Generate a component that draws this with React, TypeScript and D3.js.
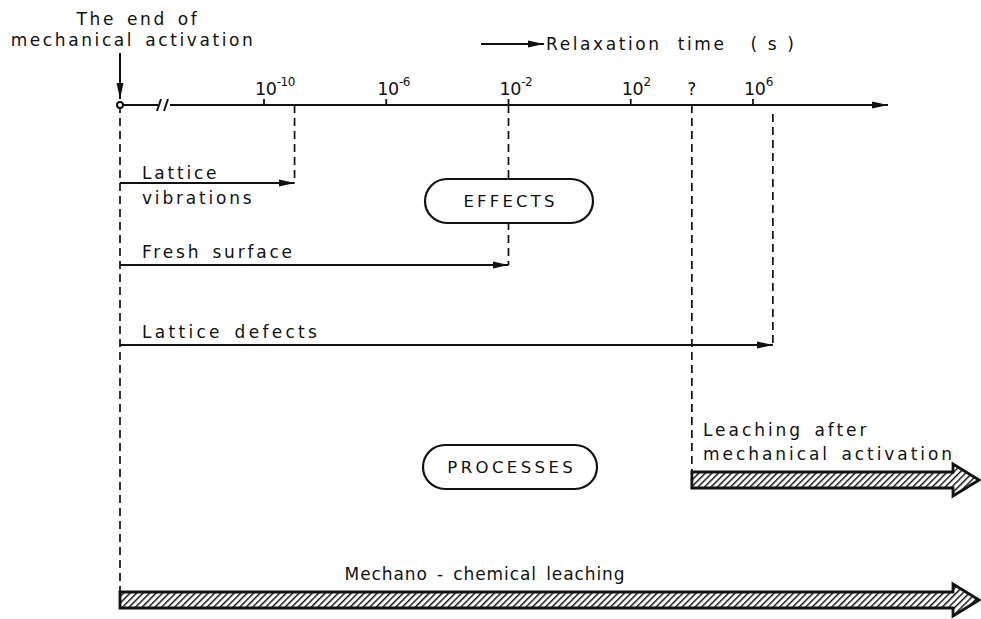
import React from 'react';
import * as d3 from 'd3';

// relaxation-time axis, exponents of 10 (s)
const tickExps = [-10, -6, -2, 2, 6];
const unknownExp = 4; // the "?" mark on the axis

// effects: label lines and the exponent where each relaxes
const effectLabels = [['Lattice', 'vibrations'], ['Fresh surface'], ['Lattice defects']];
const effectEnds = [-9, -2, 6.65];
const effectRows = [183, 265, 345];

// processes: start (null = end of activation) and label
const processLabels = [['Leaching after', 'mechanical activation'], ['Mechano - chemical leaching']];
const processStarts = [unknownExp, null];
const processRows = [480, 600];

const W = 981;
const H = 619;
const axisY = 105;
const originX = 120;
const FONT = '"DejaVu Sans", sans-serif';
const INK = '#111';

const x = d3.scaleLinear().domain([-10, 6]).range([264, 753]);

function hatchArrow(x0: number, cy: number, tip: number) {
  const p = d3.path();
  const hs = tip - 26;
  p.moveTo(x0, cy - 8);
  p.lineTo(hs, cy - 8);
  p.lineTo(hs, cy - 16);
  p.lineTo(tip, cy);
  p.lineTo(hs, cy + 16);
  p.lineTo(hs, cy + 8);
  p.lineTo(x0, cy + 8);
  p.closePath();
  return p.toString();
}

function Label({ x: lx, y, lines, anchor = 'start', size = 17, gap = 25, ls = 2.8 }: any) {
  return (
    <text x={lx} y={y} fontFamily={FONT} fontSize={size} letterSpacing={ls} wordSpacing={3}
      textAnchor={anchor} fill={INK} style={{ whiteSpace: 'pre' }}>
      {lines.map((l: string, i: number) => (
        <tspan key={i} x={lx} dy={i === 0 ? 0 : gap}>{l}</tspan>
      ))}
    </text>
  );
}

function Pill({ cx, cy, w, h, label, ls }: any) {
  return (
    <g>
      <rect x={cx - w / 2} y={cy - h / 2} width={w} height={h} rx={h / 2} ry={h / 2}
        fill="white" stroke={INK} strokeWidth={2.2} />
      <text x={cx + ls / 2} y={cy + 6} textAnchor="middle" fontFamily={FONT} fontSize={16.5}
        letterSpacing={ls} fill={INK}>
        {label}
      </text>
    </g>
  );
}

export default function App() {
  const dash = '8 5';
  return (
    <svg width={W} height={H} style={{ position: 'absolute', left: 0, top: 0, background: 'white' }}>
      <defs>
        <pattern id="hatch" width={4.6} height={4.6} patternUnits="userSpaceOnUse" patternTransform="rotate(45)">
          <rect width={4.6} height={4.6} fill="white" />
          <line x1={0} y1={0} x2={0} y2={4.6} stroke={INK} strokeWidth={2.9} />
        </pattern>
        <marker id="head" viewBox="0 0 16 8" refX={16} refY={4} markerWidth={16} markerHeight={8}
          markerUnits="userSpaceOnUse" orient="auto">
          <path d="M0,0.5 L16,4 L0,7.5 Z" fill={INK} />
        </marker>
      </defs>

      {/* title at the origin */}
      <Label x={138} y={25} lines={['The end of']} anchor="middle" ls={2.6} />
      <Label x={133} y={46} lines={['mechanical activation']} anchor="middle" ls={2.6} />
      <line x1={originX} y1={53} x2={originX} y2={99} stroke={INK} strokeWidth={2} markerEnd="url(#head)" />

      {/* axis title */}
      <line x1={481} y1={44} x2={544} y2={44} stroke={INK} strokeWidth={1.8} markerEnd="url(#head)" />
      <text x={546} y={50} fontFamily={FONT} fontSize={17} letterSpacing={2.6} fill={INK} style={{ whiteSpace: 'pre' }}>
        Relaxation  time   ( s )
      </text>

      {/* dashed relaxation markers */}
      <line x1={originX} y1={axisY} x2={originX} y2={592} stroke={INK} strokeWidth={1.7} strokeDasharray={dash} />
      {effectEnds.map((e, i) => (
        <line key={i} x1={x(e)} y1={axisY + (i === 2 ? 9 : 0)} x2={x(e)} y2={effectRows[i]}
          stroke={INK} strokeWidth={1.7} strokeDasharray={dash} />
      ))}
      <line x1={x(unknownExp)} y1={axisY} x2={x(unknownExp)} y2={472} stroke={INK} strokeWidth={1.7}
        strokeDasharray={dash} />

      {/* axis */}
      <line x1={originX} y1={axisY} x2={888} y2={axisY} stroke={INK} strokeWidth={1.8} markerEnd="url(#head)" />
      <circle cx={originX} cy={axisY} r={3} fill="white" stroke={INK} strokeWidth={2} />
      <rect x={158} y={axisY - 3} width={12} height={6} fill="white" />
      <line x1={157} y1={111} x2={161} y2={99} stroke={INK} strokeWidth={2} />
      <line x1={164} y1={111} x2={168} y2={99} stroke={INK} strokeWidth={2} />
      {tickExps.map((e) => (
        <g key={e}>
          <line x1={x(e)} y1={axisY - 6} x2={x(e)} y2={axisY} stroke={INK} strokeWidth={1.8} />
          <text x={x(e) - 9} y={95} fontFamily={FONT} fontSize={17.5} fill={INK} letterSpacing={-0.5}>
            10<tspan dx={0.5} dy={-9} fontSize={12}>{e}</tspan>
          </text>
        </g>
      ))}
      <text x={x(unknownExp)} y={95} textAnchor="middle" fontFamily={FONT} fontSize={17} fill={INK}>?</text>

      {/* effects */}
      {effectEnds.map((e, i) => (
        <g key={i}>
          <line x1={originX} y1={effectRows[i]} x2={x(e)} y2={effectRows[i]} stroke={INK} strokeWidth={2.2}
            markerEnd="url(#head)" />
          {effectLabels[i].length > 1 ? (
            <Label x={142} y={effectRows[i] - 4} lines={effectLabels[i]} gap={25} />
          ) : (
            <Label x={142} y={effectRows[i] - 7} lines={effectLabels[i]} ls={i === 2 ? 3.3 : 2.8} />
          )}
        </g>
      ))}
      <Pill cx={509} cy={201} w={168} h={44} label="EFFECTS" ls={3.2} />

      {/* processes */}
      <Pill cx={510} cy={467} w={174} h={44} label="PROCESSES" ls={3.4} />
      {processStarts.map((s, i) => {
        const x0 = s === null ? originX : x(s);
        return (
          <g key={i}>
            <path d={hatchArrow(x0, processRows[i], 979)} fill="url(#hatch)" stroke={INK} strokeWidth={2.8}
              strokeLinejoin="miter" />
            {s === null ? (
              <Label x={485} y={processRows[i] - 20} lines={processLabels[i]} anchor="middle" ls={0.9} />
            ) : (
              <Label x={703} y={processRows[i] - 44} lines={processLabels[i]} gap={24} ls={2.95} />
            )}
          </g>
        );
      })}
    </svg>
  );
}
